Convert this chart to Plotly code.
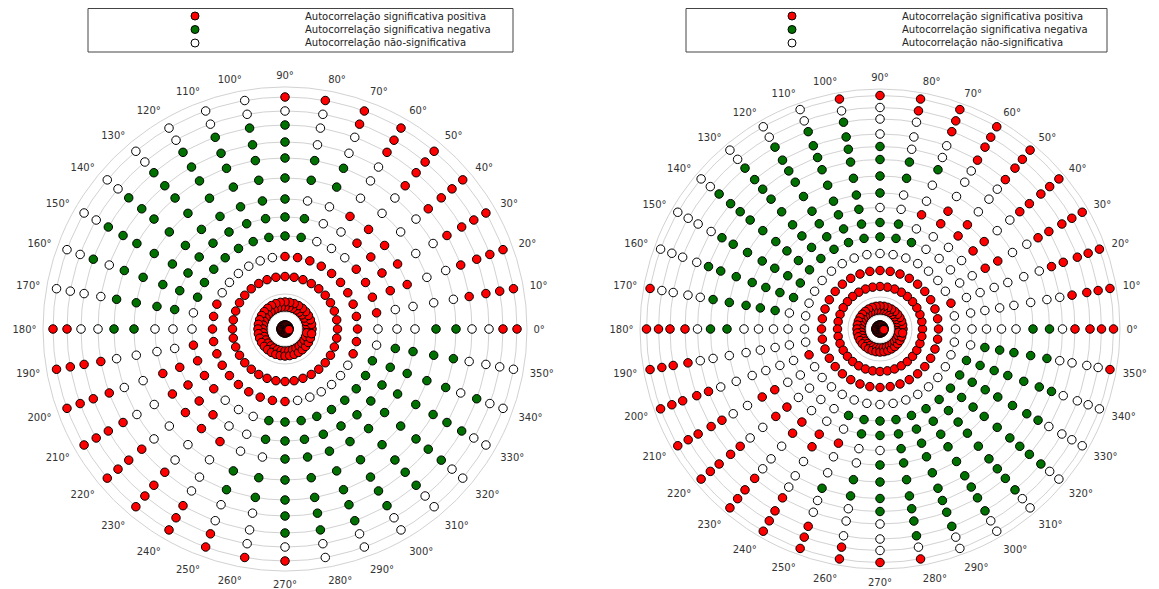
import plotly.graph_objects as go

# The page body adds an 8px margin; the figure is sized so it fills the window.
OFF = 8
W, H = 1159 - OFF, 589 - OFF

ANGLES = list(range(0, 360, 10))
ANGLE_LABELS = [f"{a}°" for a in ANGLES]

CLASS_NAMES = {
    "R": "Autocorrelação significativa positiva",
    "G": "Autocorrelação significativa negativa",
    "W": "Autocorrelação não-significativa",
}
CLASS_COLORS = {"R": "#ff0000", "G": "#007000", "W": "#ffffff"}

# ---------------- left chart ----------------
LEFT_RADII = [4, 22, 27, 52.5, 72.5, 93, 112, 130, 151, 171, 187, 204, 218, 232]
LEFT_GRID = [17, 35, 52.5, 72.5, 93, 112, 130, 151, 171, 187, 204, 218, 232]
LEFT_CLASSES = [
    "RRRRRWWWGGWWRR",  # 0
    "RRRRRRWWWWRRRR",  # 10
    "RRRRRRRRWWRRRR",  # 20
    "RRRRRRRRWWRRRR",  # 30
    "RRRRRRRRWWRRRR",  # 40
    "RRRRRWRRWWRRRR",  # 50
    "RRRRRWWRWWWRRR",  # 60
    "RRRRRWWWGGWWRR",  # 70
    "RRRRRGGWGGWWWR",  # 80
    "RRRRRGGGGGGGWR",  # 90
    "RRRRWGGGGGGGWW",  # 100
    "RRRRWGGGGGGGWW",  # 110
    "RRRRWGGGGGGGWW",  # 120
    "RRRRWGGGGGGGWW",  # 130
    "RRRRWGGGGGGGWW",  # 140
    "RRRRWGGGGGGGWW",  # 150
    "RRRRRGGGGGWGWW",  # 160
    "RRRRRWGGGGWWWW",  # 170
    "RRRRRWWWGGWWRR",  # 180
    "RRRRRRWWWWRRRR",  # 190
    "RRRRRRRRWWRRRR",  # 200
    "RRRRRRRRWWRRRR",  # 210
    "RRRRRRRRWWRRRR",  # 220
    "RRRRRWRRWWRRRR",  # 230
    "RRRRRWWRWWWRRR",  # 240
    "RRRRRWWWGGWWRR",  # 250
    "RRRRRGGWGGWWWR",  # 260
    "RRRRRGGGGGGGWR",  # 270
    "RRRRWGGGGGGGWW",  # 280
    "RRRRWGGGGGGGWW",  # 290
    "RRRRWGGGGGGGWW",  # 300
    "RRRRWGGGGGGGWW",  # 310
    "RRRRWGGGGGGGWW",  # 320
    "RRRRWGGGGGGGWW",  # 330
    "RRRRRGGGGGWGWW",  # 340
    "RRRRRWGGGGWWWW",  # 350
]

# ---------------- right chart ----------------
RIGHT_RADII = [4, 19, 23, 42.5, 58.5, 75.5, 92, 106.5, 121.5, 136, 153, 169.5,
               182.5, 195, 210, 221.5, 233.5]
RIGHT_GRID = [14, 32, 42.5, 58.5, 75.5, 92, 106.5, 121.5, 136, 153, 169.5,
              182.5, 195, 210, 221.5, 233.5]
RIGHT_CLASSES = [
    "RRRRRWWWWWGGWRRRR",  # 0
    "RRRRRWWWWWWWWRRRR",  # 10
    "RRRRRRWWWWWWRRRRR",  # 20
    "RRRRRWWWRRWWRRRRR",  # 30
    "RRRRRWWWRRWWRRRRR",  # 40
    "RRRRRWWWRRWWWRRRR",  # 50
    "RRRRRWWWRRWWWRRRR",  # 60
    "RRRRRWGWRWWGWWRRR",  # 70
    "RRRRRWGGWWGGWWWRR",  # 80
    "RRRRRWGGWGGGGWWWR",  # 90
    "RRRRRWGGGGGGGGGWR",  # 100
    "RRRRRWGGGGGGGGGWW",  # 110
    "RRRRRWGGGGGGGGGWW",  # 120
    "RRRRRWGGGGGGGGGWW",  # 130
    "RRRRRWGGGGGGGGGWW",  # 140
    "RRRRRWGGGGGGGWWWW",  # 150
    "RRRRRWGGGGGGGWWWW",  # 160
    "RRRRRWWGGGGGWWWWR",  # 170
    "RRRRRWWWWWGGWRRRR",  # 180
    "RRRRRWWWWWWWWRRRR",  # 190
    "RRRRRRWWWWWWRRRRR",  # 200
    "RRRRRWWWRRWWRRRRR",  # 210
    "RRRRRWWWRRWWRRRRR",  # 220
    "RRRRRWWWRRWWWRRRR",  # 230
    "RRRRRWWWRRWWWRRRR",  # 240
    "RRRRRWGWRWWGWWRRR",  # 250
    "RRRRRWGGWWGGWWWRR",  # 260
    "RRRRRWGGWGGGGWWWR",  # 270
    "RRRRRWGGGGGGGGGWR",  # 280
    "RRRRRWGGGGGGGGGWW",  # 290
    "RRRRRWGGGGGGGGGWW",  # 300
    "RRRRRWGGGGGGGGGWW",  # 310
    "RRRRRWGGGGGGGGGWW",  # 320
    "RRRRRWGGGGGGGWWWW",  # 330
    "RRRRRWGGGGGGGWWWW",  # 340
    "RRRRRWWGGGGGWWWWR",  # 350
]


def polar_traces(radii, classes, subplot):
    traces = []
    for code in ["R", "G", "W"]:
        rr, tt = [], []
        for ang, row in zip(ANGLES, classes):
            for rad, c in zip(radii, row):
                if c == code:
                    rr.append(rad)
                    tt.append(ang)
        traces.append(go.Scatterpolar(
            r=rr, theta=tt, mode="markers", subplot=subplot,
            name=CLASS_NAMES[code], showlegend=False,
            marker=dict(size=8.5, color=CLASS_COLORS[code],
                        line=dict(color="#000000", width=1)),
            hoverinfo="r+theta+name",
        ))
    return traces


fig = go.Figure()
for t in polar_traces(LEFT_RADII, LEFT_CLASSES, "polar"):
    fig.add_trace(t)
for t in polar_traces(RIGHT_RADII, RIGHT_CLASSES, "polar2"):
    fig.add_trace(t)


def px_x(x):
    return (x - OFF) / W


def px_y(y):
    return 1 - (y - OFF) / H


def px_dom(cx, cy, rad):
    return dict(x=[px_x(cx - rad), px_x(cx + rad)],
                y=[px_y(cy + rad), px_y(cy - rad)])


def polar_layout(cx, cy, rad, rmax, grid):
    return dict(
        domain=px_dom(cx, cy, rad),
        bgcolor="white",
        radialaxis=dict(range=[0, rmax], tickvals=grid, showticklabels=False,
                        ticks="", showline=False, gridcolor="#d2d2d2",
                        gridwidth=1),
        angularaxis=dict(tickmode="array", tickvals=ANGLES, ticktext=ANGLE_LABELS,
                         showgrid=False, showline=True, linecolor="#d2d2d2",
                         linewidth=1, ticks="outside", ticklen=4,
                         tickcolor="rgba(0,0,0,0)",
                         direction="counterclockwise", rotation=0,
                         tickfont=dict(family="DejaVu Sans", size=10,
                                       color="#333333")),
    )


fig.update_layout(
    width=W, height=H,
    margin=dict(l=0, r=0, t=0, b=0),
    paper_bgcolor="white",
    plot_bgcolor="white",
    showlegend=False,
    polar=polar_layout(285, 329, 242, 242, LEFT_GRID),
    polar2=polar_layout(880, 329, 240, 240, RIGHT_GRID),
)

# legend boxes (manual, to match the compact reference layout)
shapes = []
annotations = []
LEGEND_BOXES = [(88, 513, 195, 303), (686, 1107, 792, 900)]
ROW_Y = [16, 29.5, 43]
for x0, x1, mx, tx in LEGEND_BOXES:
    shapes.append(dict(type="rect", xref="paper", yref="paper",
                       x0=px_x(x0), x1=px_x(x1), y0=px_y(52), y1=px_y(8.5),
                       line=dict(color="#444444", width=1), fillcolor="white"))
    for code, yy in zip(["R", "G", "W"], ROW_Y):
        shapes.append(dict(type="circle", xref="paper", yref="paper",
                           xsizemode="pixel", ysizemode="pixel",
                           xanchor=px_x(mx), yanchor=px_y(yy),
                           x0=-4, x1=4, y0=-4, y1=4,
                           fillcolor=CLASS_COLORS[code],
                           line=dict(color="#000000", width=1)))
        annotations.append(dict(xref="paper", yref="paper", x=px_x(tx),
                                y=px_y(yy), xanchor="left", yanchor="middle",
                                text=CLASS_NAMES[code], showarrow=False,
                                font=dict(family="DejaVu Sans", size=10,
                                          color="#222222")))
fig.update_layout(shapes=shapes, annotations=annotations)

fig.write_html("out.html")
